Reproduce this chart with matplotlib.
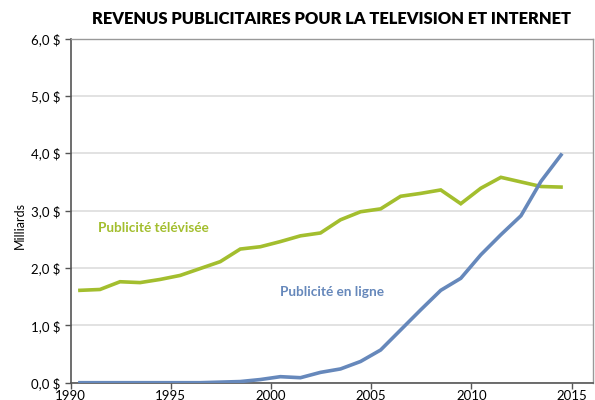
import matplotlib
matplotlib.use("Agg")
import matplotlib.pyplot as plt
import matplotlib.transforms as mtransforms
import numpy as np

years = list(range(1990, 2015))
tv = [1.61, 1.625, 1.76, 1.745, 1.80, 1.87, 1.99, 2.11, 2.33, 2.37, 2.46, 2.56, 2.61,
      2.84, 2.98, 3.03, 3.25, 3.30, 3.36, 3.12, 3.39, 3.58, 3.50, 3.42, 3.41]
online = [0.0, 0.0, 0.0, 0.0, 0.0, 0.0, 0.0, 0.01, 0.02, 0.055, 0.105, 0.087, 0.18,
          0.24, 0.37, 0.57, 0.92, 1.27, 1.61, 1.82, 2.23, 2.58, 2.91, 3.51, 3.97]
xticks = [1990, 1995, 2000, 2005, 2010, 2015]
yticks = [0, 1, 2, 3, 4, 5, 6]
ytick_labels = ["0,0 $", "1,0 $", "2,0 $", "3,0 $", "4,0 $", "5,0 $", "6,0 $"]
title = "REVENUS PUBLICITAIRES POUR LA TELEVISION ET INTERNET"
label_tv = "Publicité télévisée"
label_online = "Publicité en ligne"

green = "#A3BE2E"
blue = "#6688BB"

fig = plt.figure(figsize=(5.95, 4.0), dpi=100)
W, H = 595, 400
left, right, top, bottom = 70.5, 592.7, 38.5, 382.7
ax = fig.add_axes([left / W, 1 - bottom / H, (right - left) / W, (bottom - top) / H])

x = np.array(years) + 0.47
ax.plot(x, tv, color=green, lw=2.6, solid_joinstyle="miter", zorder=3)
ax.plot(x, online, color=blue, lw=2.6, solid_joinstyle="miter", zorder=3)

ax.set_xlim(1990, 2016.05)
ax.set_ylim(0, 6)
ax.set_xticks(xticks)
ax.set_xticklabels([str(t) for t in xticks], fontfamily="Lato", fontsize=9.5)
ax.set_yticks(yticks)
ax.set_yticklabels(ytick_labels, fontfamily="Lato", fontsize=9.5)
offset = mtransforms.ScaledTranslation(10 / 100, 0, fig.dpi_scale_trans)
for lbl in ax.get_xticklabels():
    lbl.set_transform(lbl.get_transform() + offset)

ax.grid(axis="y", color="#DDDDDD", lw=1.2, zorder=0)
ax.set_axisbelow(True)
for s in ["top", "right"]:
    ax.spines[s].set_color("#999999")
    ax.spines[s].set_linewidth(1.0)
for s in ["left", "bottom"]:
    ax.spines[s].set_color("#555555")
    ax.spines[s].set_linewidth(1.2)
ax.tick_params(axis="both", direction="out", length=4, width=1, color="#555555", pad=3)
ax.tick_params(axis="x", pad=1)

ax.text(1991.35, 2.7, label_tv, color=green, fontsize=9.8, fontweight="bold",
        fontfamily="Lato", va="center", ha="left")
ax.text(2000.45, 1.58, label_online, color=blue, fontsize=9.8, fontweight="bold",
        fontfamily="Lato", va="center", ha="left")

fig.text(20 / W, 1 - 226 / H, "Milliards", rotation=90, fontsize=9, fontfamily="Lato",
         ha="center", va="center")
fig.text(331 / W, 1 - 19 / H, title, fontsize=11.9, fontweight="heavy",
         fontfamily="Lato", ha="center", va="center")

fig.savefig("out.png", dpi=100)
